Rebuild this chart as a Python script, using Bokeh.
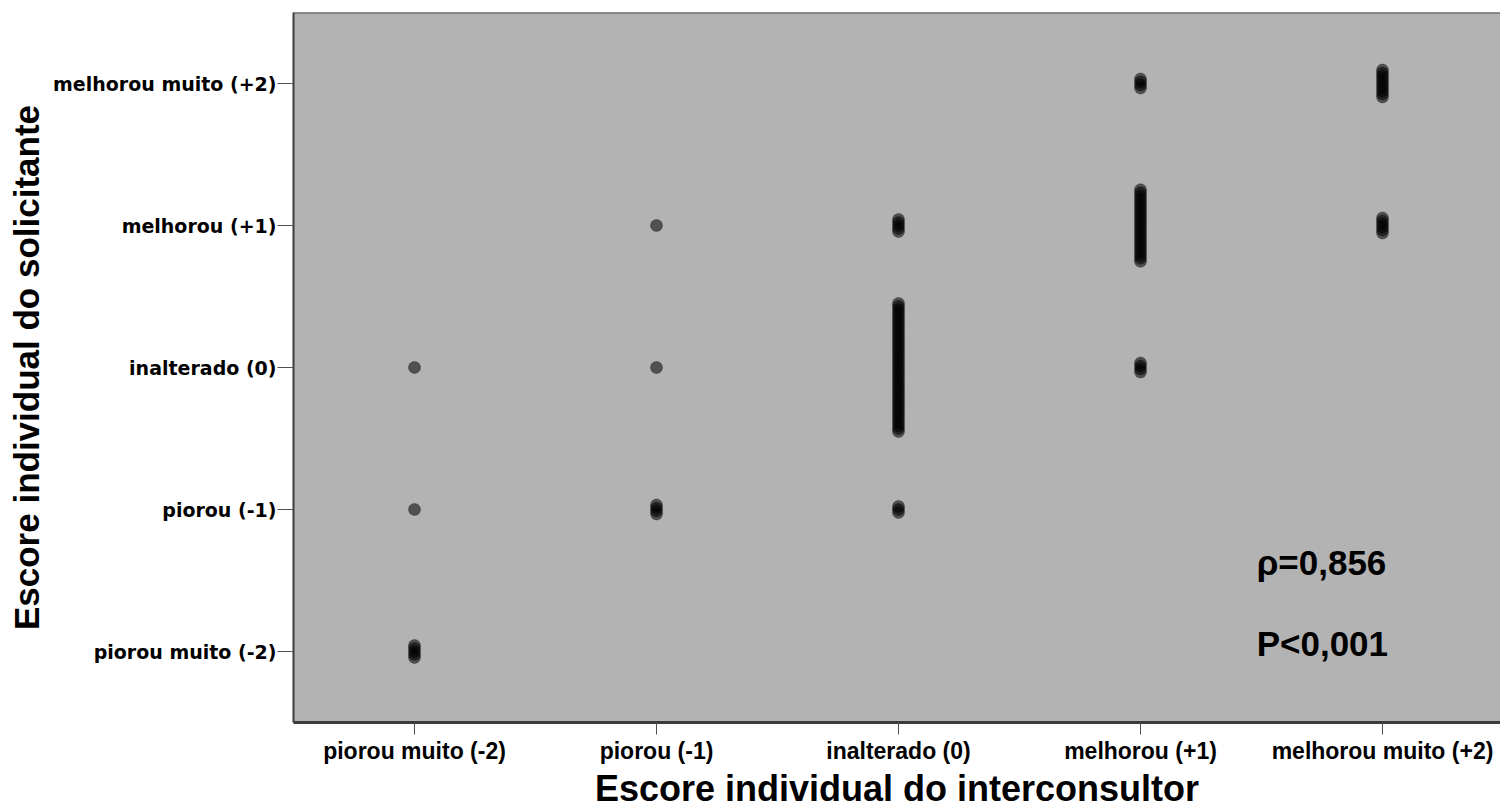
from bokeh.plotting import figure
from bokeh.models import Range1d, FixedTicker, Span, Label, ColumnDataSource
from bokeh.embed import file_html
from bokeh.resources import INLINE

# ---- data ----
score_ticks = [-2, -1, 0, 1, 2]
x_tick_labels = ["piorou muito (-2)", "piorou (-1)", "inalterado (0)", "melhorou (+1)", "melhorou muito (+2)"]
y_tick_labels = ["piorou muito (-2)", "piorou (-1)", "inalterado (0)", "melhorou (+1)", "melhorou muito (+2)"]

# cells: interconsultor score (x), solicitante score (y), number of patients
interconsultor = [-2, -2, -2, -1, -1, -1, 0, 0, 0, 1, 1, 1, 2, 2]
solicitante    = [-2, -1, 0, -1, 0, 1, -1, 0, 1, 0, 1, 2, 1, 2]
n_patients     = [5, 1, 1, 4, 1, 1, 3, 44, 5, 4, 25, 4, 6, 10]

rho_text = "\u03c1=0,856"
p_text = "P<0,001"
x_title = "Escore individual do interconsultor"
y_title = "Escore individual do solicitante"

# ---- stacked dots (one marker per patient, stacked vertically around the cell) ----
STACK_STEP = 0.021
xs, ys = [], []
for cx, cy, n in zip(interconsultor, solicitante, n_patients):
    for i in range(n):
        xs.append(cx)
        ys.append(cy + (i - (n - 1) / 2.0) * STACK_STEP)
src = ColumnDataSource(dict(x=xs, y=ys))

W, H = 1500, 811
LEFT, TOP, BOTTOM = 293, 12, 88
px_per_x = 242.0
x_end = -2.5 + (W - LEFT) / px_per_x

p = figure(width=W, height=H, output_backend="svg", toolbar_location=None,
           x_range=Range1d(-2.5, x_end), y_range=Range1d(-2.5, 2.5),
           min_border_left=LEFT, min_border_top=TOP, min_border_bottom=BOTTOM,
           min_border_right=0)
p.background_fill_color = "#b3b3b3"
p.border_fill_color = "white"
p.outline_line_color = None
p.grid.visible = False

p.scatter("x", "y", source=src, size=12, marker="circle",
          fill_color="black", fill_alpha=0.55, line_color="black", line_alpha=0.3, line_width=1)

# axes
for ax in (p.xaxis[0], p.yaxis[0]):
    ax.ticker = FixedTicker(ticks=score_ticks)
    ax.minor_tick_line_color = None
    ax.major_tick_in = 0
    ax.axis_line_color = "#3c3c3c"
    ax.axis_line_width = 2
    ax.major_tick_line_color = "#505050"
    ax.major_tick_line_width = 1
    ax.major_label_text_color = "black"
    ax.major_label_text_font_style = "bold"
    ax.axis_label_text_font = "Liberation Sans"
    ax.axis_label_text_font_style = "bold"
    ax.axis_label_text_color = "black"

p.xaxis.major_label_overrides = {t: l for t, l in zip(score_ticks, x_tick_labels)}
p.yaxis.major_label_overrides = {t: l for t, l in zip(score_ticks, y_tick_labels)}

p.xaxis.major_tick_out = 12
p.xaxis.major_label_standoff = 3
p.xaxis.major_label_text_font = "Liberation Sans"
p.xaxis.major_label_text_font_size = "23px"
p.xaxis.axis_label = x_title
p.xaxis.axis_label_text_font_size = "36px"
p.xaxis.axis_label_standoff = 1
p.xaxis.axis_line_width = 3

p.yaxis.major_tick_out = 16
p.yaxis.major_label_standoff = 1
p.yaxis.major_label_text_font = "DejaVu Sans"
p.yaxis.major_label_text_font_size = "19px"
p.yaxis.axis_label = y_title
p.yaxis.axis_label_text_font_size = "35px"
p.yaxis.axis_label_standoff = 4

# top border of the frame
p.add_layout(Span(location=2.5, dimension="width", line_color="#4a4a4a", line_width=2))

# statistics
p.add_layout(Label(x=1.48, y=-1.371, text=rho_text, text_baseline="alphabetic",
                   text_font="Liberation Sans", text_font_style="bold",
                   text_font_size="35px", text_color="black"))
p.add_layout(Label(x=1.48, y=-1.947, text=p_text, text_baseline="alphabetic",
                   text_font="Liberation Sans", text_font_style="bold",
                   text_font_size="35px", text_color="black"))

open("out.html", "w").write(file_html(p, INLINE))
